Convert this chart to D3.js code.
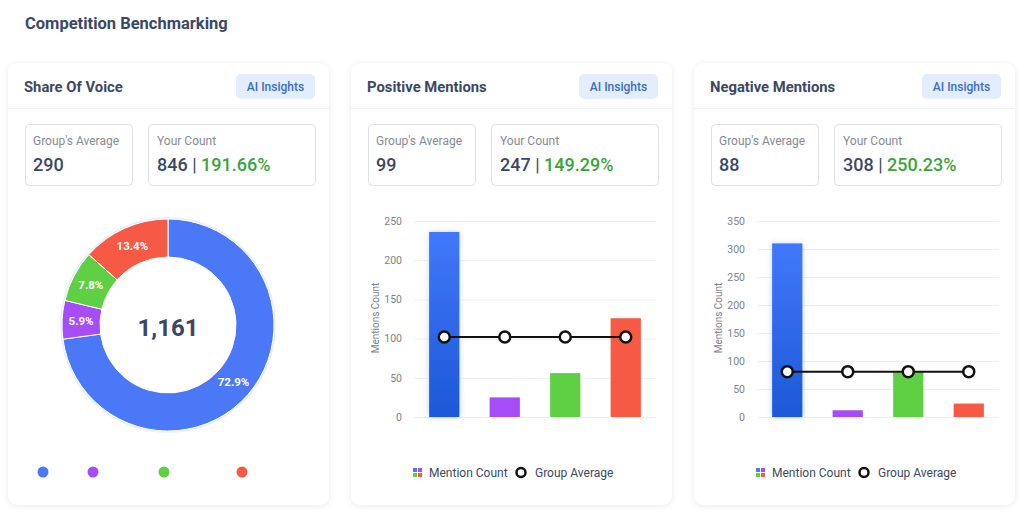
<!DOCTYPE html>
<meta charset="utf-8">
<head>
    <title>Competition Benchmarking</title>
    <script src="https://cdn.jsdelivr.net/npm/d3@7"></script>
    <style>
        body { margin: 0; background: #ffffff; font-family: Roboto, "Noto Sans", sans-serif; }
        svg text { font-family: Roboto, "Noto Sans", sans-serif; }
    </style>
</head>
<body>
<script>
    // data
    const cardTitles = ["Share Of Voice", "Positive Mentions", "Negative Mentions"]
    const groupAverages = ["290", "99", "88"]
    const yourCounts = ["846", "247", "308"]
    const yourPercents = ["191.66%", "149.29%", "250.23%"]

    const brands = ["b1", "b2", "b3", "b4"]
    const brandColors = ["#4a78f6", "#a64df7", "#5fcf44", "#f65a45"]

    const shareValues = [846, 68, 91, 156]
    const shareTotal = "1,161"

    const positiveCounts = [236, 25, 56, 126]
    const positiveAverage = [102, 102, 102, 102]
    const positiveTicks = [0, 50, 100, 150, 200, 250]

    const negativeCounts = [310, 12, 82, 24]
    const negativeAverage = [81, 81, 81, 81]
    const negativeTicks = [0, 50, 100, 150, 200, 250, 300, 350]

    const legendLabels = ["Mention Count", "Group Average"]

    // layout
    const w = 1024, h = 516
    const cardX = [8, 351, 694], cardY = 63, cardW = 321, cardH = 442
    const dark = "#3b4863"

    let svg = d3.select("body").append("svg")
        .attr("width", w).attr("height", h)

    let defs = svg.append("defs")
    defs.append("filter").attr("id", "cardShadow")
        .attr("x", "-10%").attr("y", "-10%").attr("width", "120%").attr("height", "120%")
        .append("feDropShadow")
        .attr("dx", 0).attr("dy", 1).attr("stdDeviation", 3)
        .attr("flood-color", "#000").attr("flood-opacity", 0.09)

    let glow = defs.append("filter").attr("id", "glow")
        .attr("x", "-40%").attr("y", "-20%").attr("width", "180%").attr("height", "140%")
    glow.append("feGaussianBlur").attr("in", "SourceGraphic").attr("stdDeviation", 3).attr("result", "b")
    glow.append("feComponentTransfer").attr("in", "b").attr("result", "c")
        .append("feFuncA").attr("type", "linear").attr("slope", 0.3)
    let gm = glow.append("feMerge")
    gm.append("feMergeNode").attr("in", "c")
    gm.append("feMergeNode").attr("in", "SourceGraphic")

    let blueGrad = defs.append("linearGradient").attr("id", "blueGrad")
        .attr("x1", "0%").attr("x2", "0%").attr("y1", "0%").attr("y2", "100%")
    blueGrad.append("stop").attr("offset", "0%").attr("stop-color", "#4178fb")
    blueGrad.append("stop").attr("offset", "100%").attr("stop-color", "#1d58d7")

    // page title
    svg.append("text")
        .attr("x", 25).attr("y", 29)
        .attr("font-size", 16.5).attr("font-weight", "bold")
        .attr("fill", dark)
        .text("Competition Benchmarking")

    // cards with header + stat boxes
    cardX.forEach(function (cx, i) {
        let g = svg.append("g").attr("transform", "translate(" + cx + "," + cardY + ")")
        g.append("rect")
            .attr("width", cardW).attr("height", cardH).attr("rx", 10)
            .attr("fill", "#fff").attr("filter", "url(#cardShadow)")
        g.append("text")
            .attr("x", 16).attr("y", 29)
            .attr("font-size", 14.8).attr("font-weight", "bold").attr("fill", dark)
            .text(cardTitles[i])
        g.append("rect")
            .attr("x", 228).attr("y", 11).attr("width", 79).attr("height", 25).attr("rx", 5)
            .attr("fill", "#e3edfc")
        g.append("text")
            .attr("x", 267.5).attr("y", 28).attr("text-anchor", "middle")
            .attr("font-size", 12).attr("font-weight", 500).attr("fill", "#3a6cc8")
            .text("AI Insights")
        g.append("line")
            .attr("x1", 0).attr("x2", cardW).attr("y1", 45.5).attr("y2", 45.5)
            .attr("stroke", "#eef0f4")

        // stat boxes
        g.append("rect")
            .attr("x", 17.5).attr("y", 61.5).attr("width", 107).attr("height", 61).attr("rx", 4)
            .attr("fill", "#fff").attr("stroke", "#dde0e5")
        g.append("rect")
            .attr("x", 140.5).attr("y", 61.5).attr("width", 167).attr("height", 61).attr("rx", 4)
            .attr("fill", "#fff").attr("stroke", "#dde0e5")
        g.append("text")
            .attr("x", 25).attr("y", 82)
            .attr("font-size", 12).attr("fill", "#858b96")
            .text("Group's Average")
        g.append("text")
            .attr("x", 25).attr("y", 108)
            .attr("font-size", 18).attr("font-weight", 500).attr("fill", dark)
            .text(groupAverages[i])
        g.append("text")
            .attr("x", 149).attr("y", 82)
            .attr("font-size", 12).attr("fill", "#858b96")
            .text("Your Count")
        let v = g.append("text")
            .attr("x", 149).attr("y", 108)
            .attr("font-size", 18).attr("font-weight", 500).attr("fill", dark)
        v.append("tspan").text(yourCounts[i] + " ")
        v.append("tspan").attr("font-weight", 400).text("|")
        v.append("tspan").attr("fill", "#3aa637").text(" " + yourPercents[i])
    })

    // donut
    const cx0 = 168, cy0 = 325, rOut = 106, rIn = 68
    let pie = d3.pie().sort(null).value(function (d) { return d })
    let arc = d3.arc().innerRadius(rIn).outerRadius(rOut)
    let total = d3.sum(shareValues)
    let donut = svg.append("g").attr("transform", "translate(" + cx0 + "," + cy0 + ")")
    donut.append("circle").attr("r", rOut).attr("fill", "none")
        .attr("stroke", "#4a78f6").attr("stroke-opacity", 0.12).attr("stroke-width", 4)
    donut.selectAll("path")
        .data(pie(shareValues))
        .enter()
        .append("path")
        .attr("d", arc)
        .attr("fill", function (d, i) { return brandColors[i] })
        .attr("stroke", "#fff").attr("stroke-width", 1)
    donut.selectAll("text.lbl")
        .data(pie(shareValues))
        .enter()
        .append("text")
        .attr("class", "lbl")
        .attr("transform", function (d) { return "translate(" + arc.centroid(d) + ")" })
        .attr("text-anchor", "middle").attr("dy", "0.35em")
        .attr("font-size", 11.5).attr("font-weight", "bold").attr("fill", "#fff")
        .text(function (d) { return (d.value / total * 100).toFixed(1) + "%" })
    donut.append("text")
        .attr("text-anchor", "middle").attr("dy", "0.36em").attr("y", 2)
        .attr("font-size", 24).attr("font-weight", "bold").attr("fill", dark)
        .text(shareTotal)

    const dotX = [43, 93, 164, 242]
    svg.selectAll("circle.dot")
        .data(brands)
        .enter()
        .append("circle")
        .attr("class", "dot")
        .attr("cx", function (d, i) { return dotX[i] })
        .attr("cy", 472).attr("r", 5.5)
        .attr("fill", function (d, i) { return brandColors[i] })

    // bar + line charts
    function barChart(cardLeft, counts, avgs, ticks) {
        let g = svg.append("g").attr("transform", "translate(" + cardLeft + ",0)")
        let x = d3.scaleBand().domain(brands).range([63, 305]).paddingInner(0.5).paddingOuter(0.25)
        let y = d3.scaleLinear().domain([0, d3.max(ticks)]).range([417, 221])

        let yAxis = g.append("g")
            .attr("transform", "translate(63,0)")
            .call(d3.axisLeft(y).tickValues(ticks).tickSize(-242).tickPadding(12))
        yAxis.select(".domain").remove()
        yAxis.selectAll(".tick line").attr("stroke", "#eceef2")
        yAxis.selectAll(".tick text").attr("fill", "#7c828d").attr("font-size", 10.5)
            .attr("font-family", "Roboto, sans-serif")

        g.append("text")
            .attr("transform", "translate(28,318) rotate(-90)")
            .attr("text-anchor", "middle")
            .attr("font-size", 10).attr("fill", "#7c828d")
            .text("Mentions Count")

        g.selectAll("rect.bar")
            .data(counts)
            .enter()
            .append("rect")
            .attr("class", "bar")
            .attr("x", function (d, i) { return x(brands[i]) })
            .attr("width", x.bandwidth())
            .attr("y", function (d) { return y(d) })
            .attr("height", function (d) { return y(0) - y(d) })
            .attr("fill", function (d, i) { return i == 0 ? "url(#blueGrad)" : brandColors[i] })
            .attr("filter", function (d, i) { return i == 0 ? "url(#glow)" : null })

        let line = d3.line()
            .x(function (d, i) { return x(brands[i]) + x.bandwidth() / 2 })
            .y(function (d) { return y(d) })
        g.append("path")
            .attr("d", line(avgs))
            .attr("fill", "none").attr("stroke", "#111").attr("stroke-width", 2)
        g.selectAll("circle.avg")
            .data(avgs)
            .enter()
            .append("circle")
            .attr("class", "avg")
            .attr("cx", function (d, i) { return x(brands[i]) + x.bandwidth() / 2 })
            .attr("cy", function (d) { return y(d) })
            .attr("r", 5.5)
            .attr("fill", "#fff").attr("stroke", "#111").attr("stroke-width", 2.5)

        // legend
        let lg = g.append("g").attr("transform", "translate(62,468)")
        const sq = [[0, 0], [5, 0], [0, 5], [5, 5]]
        lg.selectAll("rect")
            .data(brandColors)
            .enter()
            .append("rect")
            .attr("x", function (d, i) { return sq[i][0] })
            .attr("y", function (d, i) { return sq[i][1] })
            .attr("width", 4).attr("height", 4)
            .attr("fill", function (d) { return d })
        lg.append("text")
            .attr("x", 16).attr("y", 9)
            .attr("font-size", 12).attr("fill", dark)
            .text(legendLabels[0])
        lg.append("circle")
            .attr("cx", 108).attr("cy", 4.5).attr("r", 4.5)
            .attr("fill", "#fff").attr("stroke", "#111").attr("stroke-width", 2.5)
        lg.append("text")
            .attr("x", 122).attr("y", 9)
            .attr("font-size", 12).attr("fill", dark)
            .text(legendLabels[1])
    }

    barChart(cardX[1], positiveCounts, positiveAverage, positiveTicks)
    barChart(cardX[2], negativeCounts, negativeAverage, negativeTicks)
</script>
</body>
</html>
